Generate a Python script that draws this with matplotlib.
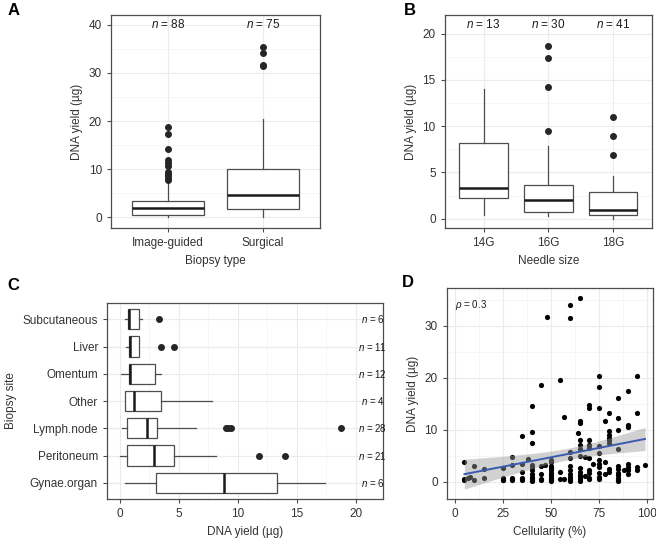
import numpy as np
import matplotlib
matplotlib.use("Agg")
import matplotlib.pyplot as plt

plt.rcParams['font.family'] = ['Liberation Sans', 'DejaVu Sans']
plt.rcParams['mathtext.fontset'] = 'custom'
plt.rcParams['mathtext.rm'] = 'Liberation Sans'
plt.rcParams['mathtext.it'] = 'Liberation Sans:italic'

# ---- panel A : biopsy type ----
tipo_biopsia = ["Image-guided", "Surgical"]
n_tipo = [88, 75]
# whislo, q1, med, q3, whishi
caja_tipo = [[0.0, 0.6, 1.9, 3.4, 7.6],
             [0.0, 1.8, 4.6, 10.1, 20.4]]
atipicos_tipo = [[7.7, 8.0, 8.5, 9.0, 9.4, 10.7, 11.3, 12.0, 14.1, 17.3, 18.7],
                 [31.5, 31.7, 34.1, 35.3]]

# ---- panel B : needle size ----
aguja = ["14G", "16G", "18G"]
n_aguja = [13, 30, 41]
caja_aguja = [[0.4, 2.2, 3.3, 8.2, 14.0],
              [0.25, 0.7, 2.05, 3.65, 7.85],
              [0.0, 0.45, 0.9, 2.9, 4.6]]
atipicos_aguja = [[], [9.45, 14.2, 17.4, 18.7], [6.9, 8.9, 10.95]]

# ---- panel C : biopsy site (bottom to top) ----
sitio = ["Gynae.organ", "Peritoneum", "Lymph.node", "Other", "Omentum", "Liver", "Subcutaneous"]
n_sitio = [6, 21, 28, 4, 12, 11, 6]
caja_sitio = [[0.4, 3.1, 8.85, 13.3, 17.35],
              [0.0, 0.6, 2.85, 4.55, 8.1],
              [0.15, 0.6, 2.3, 3.15, 6.45],
              [0.4, 0.4, 1.2, 3.45, 7.8],
              [0.05, 0.75, 0.85, 3.0, 3.45],
              [0.5, 0.75, 0.85, 1.65, 1.65],
              [0.4, 0.7, 0.8, 1.65, 1.9]]
atipicos_sitio = [[], [11.8, 14.0], [9.0, 9.2, 9.4, 18.7], [], [], [3.5, 4.55], [3.35]]

# ---- panel D : cellularity vs yield ----
celularidad = [5, 5, 5, 7, 8, 10, 10, 15, 15,
               25, 25, 25, 25, 30, 30, 30, 30, 30,
               35, 35, 35, 35, 35, 35, 38,
               40, 40, 40, 40, 40, 40, 40, 40, 40, 40, 40,
               45, 45, 45, 45, 45, 47, 48,
               50, 50, 50, 50, 50, 50, 50, 50, 50, 50, 50,
               55, 55, 55, 57, 57,
               60, 60, 60, 60, 60, 60, 60, 60, 60, 60, 64,
               65, 65, 65, 65, 65, 65, 65, 65, 65, 65, 65, 65, 65,
               68, 68,
               70, 70, 70, 70, 70, 70, 70, 70, 70, 70, 72,
               75, 75, 75, 75, 75, 75, 75, 75, 75, 75, 75,
               78, 78, 78,
               80, 80, 80, 80, 80, 80, 80, 80,
               85, 85, 85, 85, 85, 85, 85, 85, 85, 85, 85, 88,
               90, 90, 90, 90, 90, 90, 90,
               95, 95, 95, 95, 99]
rendimiento = [3.8, 0.4, 0.5, 0.7, 1.0, 3.1, 0.4, 2.4, 0.8,
               2.6, 0.4, 0.7, 0.3, 4.7, 3.2, 0.8, 0.4, 0.5,
               8.8, 3.5, 2.0, 0.5, 0.3, 0.8, 4.5,
               14.6, 9.6, 7.4, 3.3, 2.8, 2.2, 1.6, 1.0, 0.6, 0.3, 0.1,
               18.7, 3.0, 1.5, 0.5, 0.3, 3.3, 31.7,
               4.3, 3.8, 3.1, 2.7, 2.2, 1.8, 1.4, 1.0, 0.6, 0.4, 0.2,
               19.5, 2.0, 0.5, 12.4, 0.5,
               34.0, 31.5, 5.8, 4.6, 3.0, 2.2, 1.6, 1.0, 0.5, 0.2, 9.5,
               35.3, 11.8, 11.3, 8.1, 7.1, 6.3, 5.0, 2.6, 2.0, 1.4, 0.9, 0.5, 0.1,
               4.8, 1.2,
               14.8, 14.2, 8.1, 7.1, 6.6, 4.6, 2.2, 1.7, 0.8, 0.5, 3.5,
               20.4, 18.2, 14.2, 6.9, 5.6, 4.2, 3.4, 2.8, 1.8, 1.0, 0.5,
               11.8, 3.8, 1.5,
               13.3, 9.7, 9.0, 8.5, 8.0, 7.5, 2.5, 2.0,
               16.1, 12.2, 10.0, 6.3, 3.0, 2.4, 1.8, 1.3, 0.8, 0.4, 0.1, 2.3,
               17.5, 11.0, 10.6, 3.5, 2.8, 2.2, 1.5,
               20.4, 13.3, 2.9, 2.3, 3.2]
rho = 0.3

borde = "#4d4d4d"
rejilla = "#ebebeb"
punto = "#262626"
tam_tick = 8.5


def estilo(ax):
    for s in ax.spines.values():
        s.set_color(borde)
        s.set_linewidth(0.9)
    ax.tick_params(colors=borde, labelcolor="#333333", labelsize=tam_tick, length=3, width=0.8)
    ax.set_axisbelow(True)
    ax.grid(True, which="major", color=rejilla, linewidth=0.8)
    ax.grid(True, which="minor", color="#f3f3f3", linewidth=0.5)
    ax.tick_params(which="minor", length=0)


def cajas(ax, datos, atipicos, vertical=True):
    stats = []
    for c, a in zip(datos, atipicos):
        stats.append(dict(whislo=c[0], q1=c[1], med=c[2], q3=c[3], whishi=c[4], fliers=a))
    ax.bxp(stats, positions=range(1, len(stats) + 1), widths=0.75, vert=vertical,
           showcaps=False, patch_artist=True,
           boxprops=dict(facecolor="white", edgecolor=borde, linewidth=0.9),
           whiskerprops=dict(color=borde, linewidth=0.9),
           medianprops=dict(color="#1a1a1a", linewidth=1.8),
           flierprops=dict(marker="o", markerfacecolor=punto, markeredgecolor=punto, markersize=4))


fig = plt.figure(figsize=(6.56, 5.39), dpi=100)

# A
axA = fig.add_axes([0.169, 0.577, 0.319, 0.395])
cajas(axA, caja_tipo, atipicos_tipo)
axA.set_xlim(0.4, 2.6)
axA.set_ylim(-2.2, 42)
axA.set_yticks([0, 10, 20, 30, 40])
axA.set_yticks([5, 15, 25, 35], minor=True)
axA.set_xticks([1, 2], tipo_biopsia)
for i, n in enumerate(n_tipo):
    axA.text(i + 1, 40, r"$n$ = %d" % n, ha="center", va="center", fontsize=tam_tick, color="#1a1a1a")
axA.set_xlabel("Biopsy type", fontsize=tam_tick, color="#333333")
axA.set_ylabel("DNA yield (µg)", fontsize=tam_tick, color="#333333")
estilo(axA)

# B
axB = fig.add_axes([0.678, 0.577, 0.316, 0.395])
cajas(axB, caja_aguja, atipicos_aguja)
axB.set_xlim(0.4, 3.6)
axB.set_ylim(-1.0, 22.0)
axB.set_yticks([0, 5, 10, 15, 20])
axB.set_yticks([2.5, 7.5, 12.5, 17.5], minor=True)
axB.set_xticks([1, 2, 3], aguja)
for i, n in enumerate(n_aguja):
    axB.text(i + 1, 21, r"$n$ = %d" % n, ha="center", va="center", fontsize=tam_tick, color="#1a1a1a")
axB.set_xlabel("Needle size", fontsize=tam_tick, color="#333333")
axB.set_ylabel("DNA yield (µg)", fontsize=tam_tick, color="#333333")
estilo(axB)

# C
axC = fig.add_axes([0.163, 0.074, 0.421, 0.364])
cajas(axC, caja_sitio, atipicos_sitio, vertical=False)
axC.set_ylim(0.4, 7.6)
axC.set_xlim(-1.1, 22.3)
axC.set_xticks([0, 5, 10, 15, 20])
axC.set_xticks([2.5, 7.5, 12.5, 17.5], minor=True)
axC.set_yticks(range(1, 8), sitio)
for i, n in enumerate(n_sitio):
    axC.text(21.4, i + 1, r"$n$ = %d" % n, ha="center", va="center", fontsize=7, color="#1a1a1a")
axC.set_xlabel("DNA yield (µg)", fontsize=tam_tick, color="#333333")
axC.set_ylabel("Biopsy site", fontsize=tam_tick, color="#333333")
estilo(axC)

# D
axD = fig.add_axes([0.681, 0.074, 0.314, 0.392])
x = np.array(celularidad, dtype=float)
y = np.array(rendimiento, dtype=float)
axD.scatter(x, y, s=14, color="black", zorder=2, linewidths=0)
b1, b0 = np.polyfit(x, y, 1)
xs = np.linspace(x.min(), x.max(), 100)
ys = b0 + b1 * xs
res = y - (b0 + b1 * x)
s = np.sqrt(np.sum(res ** 2) / (len(x) - 2))
se = s * np.sqrt(1 / len(x) + (xs - x.mean()) ** 2 / np.sum((x - x.mean()) ** 2))
axD.fill_between(xs, ys - 1.975 * se, ys + 1.975 * se, color="#999999", alpha=0.45, linewidth=0, zorder=3)
axD.plot(xs, ys, color="#3a5bb0", linewidth=1.4, zorder=4)
axD.text(0.04, 0.95, r"$\rho$ = %.1f" % rho, transform=axD.transAxes, ha="left", va="top", fontsize=7, color="#1a1a1a")
axD.set_xlim(-4.2, 103)
axD.set_ylim(-3.3, 37.3)
axD.set_xticks([0, 25, 50, 75, 100])
axD.set_xticks([12.5, 37.5, 62.5, 87.5], minor=True)
axD.set_yticks([0, 10, 20, 30])
axD.set_yticks([5, 15, 25, 35], minor=True)
axD.set_xlabel("Cellularity (%)", fontsize=tam_tick, color="#333333")
axD.set_ylabel("DNA yield (µg)", fontsize=tam_tick, color="#333333")
estilo(axD)

for letra, px, py in [("A", 0.012, 0.981), ("B", 0.615, 0.981), ("C", 0.012, 0.471), ("D", 0.613, 0.475)]:
    fig.text(px, py, letra, fontsize=12, fontweight="bold", ha="left", va="center")

fig.savefig("out.png", dpi=100)
